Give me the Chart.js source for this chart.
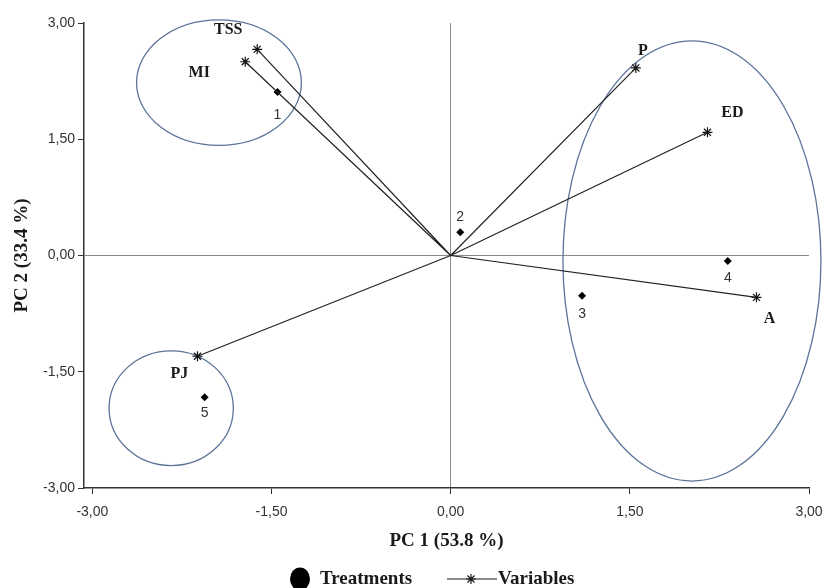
<!DOCTYPE html>
<html>
<head>
<meta charset="utf-8">
<script src="https://cdn.jsdelivr.net/npm/chart.js@4.4.1/dist/chart.umd.min.js"></script>
<style>
  html, body { margin: 0; padding: 0; background: #fff; }
  #wrap { width: 825px; height: 588px; }
</style>
</head>
<body>
<div id="wrap"><canvas id="biplot"></canvas></div>
<script>
// variables (loadings)
const varNames = ['TSS', 'MI', 'P', 'ED', 'A', 'PJ']
const varPC1   = [-1.62, -1.72, 1.55, 2.15, 2.56, -2.12]
const varPC2   = [2.66, 2.50, 2.42, 1.59, -0.54, -1.30]

// treatments (scores)
const treatNames = ['1', '2', '3', '4', '5']
const treatPC1   = [-1.45, 0.08, 1.10, 2.32, -2.06]
const treatPC2   = [2.11, 0.30, -0.52, -0.07, -1.83]

const tickValues = [-3, -1.5, 0, 1.5, 3]

// groups circled on the plot: centre and radii in PC units
const groupCX = [-1.94, 2.02, -2.34]
const groupCY = [2.23, -0.07, -1.97]
const groupRX = [0.69, 1.08, 0.52]
const groupRY = [0.81, 2.84, 0.74]

// label nudges in px (layout only)
const varLabelOff   = [[-29, -19], [-46, 11], [7, -17], [25, -19], [13, 22], [-18, 18]]
const treatLabelOff = [[0, 23], [0, -15], [0, 18], [0, 17], [0, 16]]

const SERIF = "'Liberation Serif', 'Times New Roman', serif"
const SANS  = "'Liberation Sans', Arial, sans-serif"
const INK = '#1a1a1a'

const vectors = []
varPC1.forEach((x, i) => { vectors.push({ x: 0, y: 0 }, { x, y: varPC2[i] }, { x: null, y: null }) })

const fmtTick = v => v.toFixed(2).replace('.', ',')

const ellipses = {
  id: 'ellipses',
  beforeDatasetsDraw(chart) {
    const { ctx, scales: { x, y } } = chart
    ctx.save()
    ctx.strokeStyle = '#5b7399'
    ctx.lineWidth = 1.3
    groupCX.forEach((cx, i) => {
      const px = x.getPixelForValue(cx), py = y.getPixelForValue(groupCY[i])
      const rx = Math.abs(x.getPixelForValue(cx + groupRX[i]) - px)
      const ry = Math.abs(y.getPixelForValue(groupCY[i] + groupRY[i]) - py)
      ctx.beginPath()
      ctx.ellipse(px, py, rx, ry, 0, 0, Math.PI * 2)
      ctx.stroke()
    })
    ctx.restore()
  }
}

const labels = {
  id: 'labels',
  afterDatasetsDraw(chart) {
    const { ctx, scales: { x, y } } = chart
    ctx.save()
    ctx.textAlign = 'center'
    ctx.textBaseline = 'middle'
    ctx.fillStyle = INK
    ctx.font = 'bold 16px ' + SERIF
    varNames.forEach((n, i) => {
      ctx.fillText(n, x.getPixelForValue(varPC1[i]) + varLabelOff[i][0], y.getPixelForValue(varPC2[i]) + varLabelOff[i][1])
    })
    ctx.fillStyle = '#333'
    ctx.font = '14px ' + SANS
    treatNames.forEach((n, i) => {
      ctx.fillText(n, x.getPixelForValue(treatPC1[i]) + treatLabelOff[i][0], y.getPixelForValue(treatPC2[i]) + treatLabelOff[i][1])
    })
    ctx.restore()
  }
}

// legend under the axis title: filled dot + line with star
const legend = {
  id: 'customLegend',
  afterDraw(chart) {
    const { ctx } = chart
    const cy = 579
    ctx.save()
    ctx.fillStyle = '#000'
    ctx.beginPath()
    ctx.ellipse(300, cy, 10, 11.5, 0, 0, Math.PI * 2)
    ctx.fill()
    ctx.font = 'bold 19px ' + SERIF
    ctx.textBaseline = 'middle'
    ctx.textAlign = 'left'
    ctx.fillStyle = INK
    ctx.fillText('Treatments', 320, cy)
    ctx.strokeStyle = INK
    ctx.lineWidth = 1.2
    ctx.beginPath()
    ctx.moveTo(447, cy); ctx.lineTo(497, cy)
    ctx.stroke()
    Chart.helpers.drawPoint(ctx, { pointStyle: 'star', radius: 5, rotation: 0, borderWidth: 1.2 }, 471, cy)
    ctx.fillText('Variables', 498, cy)
    ctx.restore()
  }
}

new Chart(document.getElementById('biplot'), {
  type: 'scatter',
  data: {
    datasets: [
      { label: 'vectors', data: vectors, showLine: true, spanGaps: false,
        borderColor: '#222', borderWidth: 1.2, pointRadius: 0 },
      { label: 'Variables', data: varPC1.map((x, i) => ({ x, y: varPC2[i] })),
        pointStyle: 'star', pointRadius: 5, borderColor: '#111', borderWidth: 1.2 },
      { label: 'Treatments', data: treatPC1.map((x, i) => ({ x, y: treatPC2[i] })),
        pointStyle: 'rectRot', pointRadius: 4, backgroundColor: '#000', borderColor: '#000', borderWidth: 0 },
    ],
  },
  options: {
    responsive: true, maintainAspectRatio: false, animation: false,
    layout: { padding: { left: 0, right: 0, top: 23, bottom: 28 } },
    plugins: { legend: { display: false }, tooltip: { enabled: false } },
    scales: {
      x: {
        min: -3.07, max: 3,
        afterBuildTicks: s => { s.ticks = tickValues.map(value => ({ value })) },
        afterFit: s => { s.height = 72; s.paddingLeft = 0; s.paddingRight = 16 },
        border: { color: '#333', width: 1.5 },
        grid: { color: c => c.tick && c.tick.value === 0 ? '#8a8a8a' : 'transparent', tickColor: '#333', tickLength: 6, lineWidth: 1 },
        ticks: { color: '#333', padding: 10, maxRotation: 0, font: { family: SANS, size: 14 }, callback: fmtTick },
        title: { display: true, text: 'PC 1 (53.8 %)', color: INK, padding: { top: 0, bottom: 8 },
                 font: { family: SERIF, size: 19, weight: 'bold' } },
      },
      y: {
        min: -3, max: 3,
        afterBuildTicks: s => { s.ticks = tickValues.map(value => ({ value })) },
        afterFit: s => { s.width = 84 },
        border: { color: '#333', width: 1.5 },
        grid: { color: c => c.tick && c.tick.value === 0 ? '#8a8a8a' : 'transparent', tickColor: '#333', tickLength: 6, lineWidth: 1 },
        ticks: { color: '#333', padding: 3, font: { family: SANS, size: 14 }, callback: fmtTick },
        title: { display: true, text: 'PC 2 (33.4 %)', color: INK, padding: { top: 11, bottom: 0 },
                 font: { family: SERIF, size: 19, weight: 'bold' } },
      },
    },
  },
  plugins: [ellipses, labels, legend],
})
</script>
</body>
</html>
